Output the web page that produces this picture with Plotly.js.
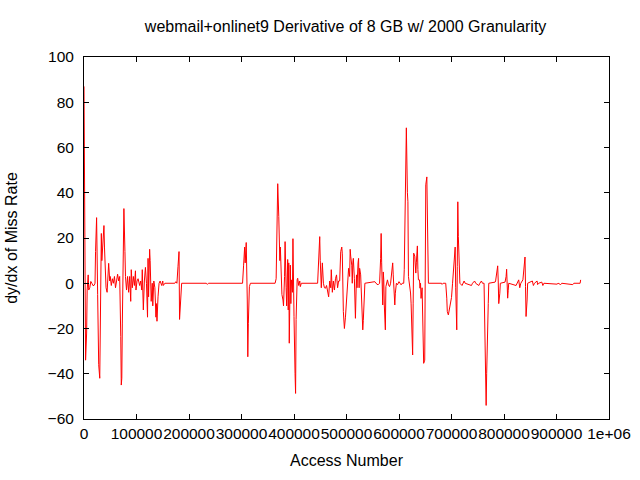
<!DOCTYPE html>
<html>
<head>
<meta charset="utf-8">
<script src="https://cdn.plot.ly/plotly-3.0.1.min.js"></script>
<style>html,body{margin:0;padding:0;background:#fff;}#chart{width:640px;height:480px;}</style>
</head>
<body>
<div id="chart"></div>
<script>
const chartTitle = "webmail+onlinet9 Derivative of 8 GB w/ 2000 Granularity";
const xAxisTitle = "Access Number";
const yAxisTitle = "dy/dx of Miss Rate";

const xTickValues = [0, 100000, 200000, 300000, 400000, 500000, 600000, 700000, 800000, 900000, 1000000];
const xTickLabels = ["0", "100000", "200000", "300000", "400000", "500000", "600000", "700000", "800000", "900000", "1e+06"];
const yTickValues = [-60, -40, -20, 0, 20, 40, 60, 80, 100];

const accessNumber = [
  0, 2000, 3000, 5000, 6000, 8000, 9000, 11000, 13000, 15000, 17000, 19000, 21000, 22000, 24000, 26000, 28000, 30000,
  33000, 34000, 36000, 38000, 39000, 40000, 42000, 44000, 47000, 49000, 50000, 52000, 54000, 56000, 58000, 60000,
  62000, 64000, 66000, 68000, 70000, 71000, 72000, 73000, 75000, 76000, 78000, 79000, 81000, 83000, 85000, 87000,
  89000, 90000, 92000, 94000, 96000, 98000, 99000, 101000, 103000, 106000, 108000, 110000, 111000, 113000, 115000,
  117000, 119000, 121000, 122000, 123000, 125000, 126000, 128000, 130000, 131000, 133000, 135000, 137000, 138000,
  139000, 141000, 143000, 145000, 148000, 150000, 151000, 154000,
  173000, 175000, 177000, 179000, 181000, 182000, 184000, 186000,
  233000, 235000, 237000,
  302000, 304000, 306000, 307000, 309000, 311000, 312000, 313000, 315000, 317000,
  364000, 366000, 368000, 369000, 371000, 372000, 373000, 374000, 376000, 377000, 379000, 380000, 382000, 383000,
  385000, 386000, 388000, 389000, 390000, 391000, 393000, 394000, 395000, 397000, 398000, 399000, 400000, 402000,
  403000, 404000, 405000, 406000, 407000, 409000, 410000, 411000, 412000, 414000,
  445000, 446000, 447000, 449000, 450000, 451000, 452000, 454000, 455000, 456000, 458000, 460000, 462000, 464000,
  466000, 468000, 470000, 471000, 473000, 475000, 477000, 479000, 481000, 483000, 485000, 487000, 489000, 491000,
  492000, 494000, 496000, 498000, 500000, 502000, 504000, 506000, 507000, 508000, 510000, 511000, 512000, 513000,
  515000, 516000, 517000, 519000, 520000, 522000, 523000, 524000, 525000, 527000, 528000, 529000, 531000, 532000,
  533000, 535000,
  554000, 556000, 560000, 563000, 565000, 566000, 567000, 569000, 570000, 571000, 572000, 574000, 575000, 576000,
  578000, 580000, 582000, 584000, 586000, 588000, 589000, 590000, 592000, 593000, 595000, 597000, 599000, 600000,
  602000, 604000, 606000, 609000, 610000, 612000, 613000, 614000, 616000, 617000, 618000, 620000, 621000, 622000,
  623000, 624000, 626000, 627000, 628000, 630000, 631000, 632000, 633000, 635000, 636000, 637000, 639000, 640000,
  641000, 642000, 644000, 645000, 646000, 647000, 649000, 650000, 651000, 653000, 654000, 656000,
  681000, 682000, 684000, 689000, 691000, 692000, 694000, 696000, 698000, 700000, 702000, 704000, 706000, 707000,
  708000, 710000, 711000, 712000, 713000, 715000, 716000, 720000, 722000, 724000, 726000, 738000, 740000, 744000,
  746000, 752000, 754000, 757000, 759000, 762000, 764000, 765000, 766000, 767000, 768000, 770000, 771000,
  783000, 784000, 786000, 788000, 789000, 790000, 792000, 793000, 802000, 804000, 805000, 807000, 808000, 809000,
  823000, 825000, 828000, 830000, 832000, 836000, 838000, 840000, 841000, 842000, 844000, 845000, 854000, 855000,
  856000, 858000, 863000, 864000, 866000, 872000, 874000, 876000, 901000, 903000, 908000, 910000, 931000, 933000,
  945000, 946000
];

const missRateDerivative = [
  87, 27, -34, -22, -3, 3.7, -3, -2, 0.8, 0, -1, -1, 0, 14, 29, -5, -36, -42,
  22, 10, 16, 25.5, 16, 5, -2, -4, 8.8, 1, 3, -1, 2, 0, 3, -2,
  1, 4, 1, 3, -23.6, -45, -42, -18, 17.7, 33, 14, 3, -3, 3, -4, 3,
  -8, 6, -2, 3, -1, 5.5, -3, 1, 2, -1, 1, -3, 6, -11.8, 1,
  7, 0, -15, 11, -6, 15, 10, -8, 0, -10, 1, -2, -15, -9,
  -16.8, -6, 0, 1, -1, 1, -1, 0,
  0, 0.7, 0, 7.3, 14, -16, -7.3, 0,
  0, -0.5, 0,
  0, 8, 16, 9, 18, -7.4, -32.5, -17.7, -1.5, 0,
  0, 2, 24.5, 44, 29.5, 16, 10, 16, 6, -5, -7.4, -10, 3, 18.4,
  -2, -10, 10.5, -11.8, 9, -26.5, 8, -9, 1.5, -4, 19.7, -9, -14.7, -40,
  -48.7, -16, 0, 1.5, 2.2, -1, 0, 1, -1.5, 0,
  0, 6, 16, 20.6, 10, -1, -2, 9, 4.4, 0, -2, -2.2, -1, -4,
  -6, 1, -2, 6, -4, 1, -3, 2, 3.7, -2, 1, 1, 14, 16,
  13, -12.5, -20, -15, -7.7, 0, 6.6, 3, 15, 12, 8, 0, 9, 11,
  2, -7.4, -15.5, 3.7, -2, 9, 11, -2, 6.6, 3.7, -3, -13, -20.6, -16.5,
  -6, 0,
  0.7, 0, -0.7, 0, 11, 22, 9, -9.6, 5, 1.5, -9.6, -20.6, -1.5, 0,
  1.5, -0.7, -1.5, 0, 4.4, 9, 3.7, -1.5, -9.6, -4.4, 0, -0.7, 0, 0.7,
  0, -0.7, 0, 0, 6, 40, 35, 68.7, 40, 36, 3, 0, -1, -4.3,
  -8.8, -19, -31.7, -8.8, 13.3, 12, 9, 4.5, 9, 16.5, 6, 1.5, 1.5, -2.2,
  0, -6.7, -2, -11, -21.4, -35.4, -34, 3, 43.5, 47, 23.6, 0,
  0, -0.5, 0, 0, -6.6, -12.5, -14, -11, -8.5, -6.3, 0, 5, 11, 16,
  -2, -20.6, 7.4, 36, 20.6, 3, 0, -1, 0, 1, 0, -1, 0, 1,
  0, -1, 0, 1, 0, 0, -27.3, -40, -54, -40, -22, -9, 0,
  0.5, 1, 4.4, 7.7, 1, -9, -4.4, 0, 0.5, 3, 6.2, -6.6, -3.3, 0,
  -1, 0, 1.5, -2, 0, 1.5, 7.4, 11.6, -1.5, -14.7, -7.4, 0, 1, 0,
  -1, 0, 1, -0.6, 0, 0.5, -1, 0, -0.4, 0, -0.6, 0, -0.6, 0,
  0, 1.5
];

const fontFamily = "'Liberation Sans', Arial, sans-serif";

const trace = {
  x: accessNumber,
  y: missRateDerivative,
  type: 'scatter',
  mode: 'lines',
  line: {color: '#ff0000', width: 1},
  hoverinfo: 'skip'
};

const axisCommon = {
  showline: true,
  linecolor: '#000',
  linewidth: 1,
  mirror: 'allticks',
  ticks: 'inside',
  ticklen: 5,
  tickcolor: '#000',
  tickwidth: 1,
  showgrid: false,
  zeroline: false,
  tickangle: 0,
  tickfont: {family: fontFamily, size: 15.5, color: '#000'}
};

const layout = {
  width: 640,
  height: 480,
  margin: {l: 84, r: 31, t: 57, b: 61},
  paper_bgcolor: '#fff',
  plot_bgcolor: '#fff',
  showlegend: false,
  font: {family: fontFamily, size: 16, color: '#000'},
  title: {text: chartTitle, x: 0.54, xanchor: 'center', y: 0.945, yanchor: 'middle', font: {family: fontFamily, size: 16, color: '#000'}},
  xaxis: Object.assign({}, axisCommon, {
    range: [0, 1000000],
    tickmode: 'array',
    tickvals: xTickValues,
    ticktext: xTickLabels,
    automargin: false,
    title: {text: xAxisTitle, font: {family: fontFamily, size: 16, color: '#000'}, standoff: 14}
  }),
  yaxis: Object.assign({}, axisCommon, {
    range: [-60, 100],
    tickmode: 'array',
    tickvals: yTickValues,
    automargin: false,
    ticklabelstandoff: 6,
    title: {text: yAxisTitle, font: {family: fontFamily, size: 16, color: '#000'}, standoff: 26}
  })
};

Plotly.newPlot('chart', [trace], layout, {staticPlot: true, displayModeBar: false});
</script>
</body>
</html>
